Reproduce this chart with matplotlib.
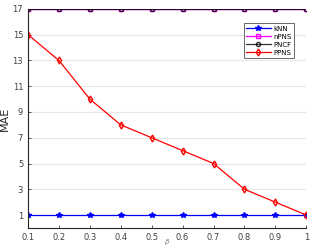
import matplotlib
matplotlib.use('Agg')
import matplotlib.pyplot as plt

# Data
x_vals = [0.1, 0.2, 0.3, 0.4, 0.5, 0.6, 0.7, 0.8, 0.9, 1.0]
knn = [1, 1, 1, 1, 1, 1, 1, 1, 1, 1]
npns = [17, 17, 17, 17, 17, 17, 17, 17, 17, 17]
pncf = [17, 17, 17, 17, 17, 17, 17, 17, 17, 17]
ppns = [15, 13, 10, 8, 7, 6, 5, 3, 2, 1]
y_ticks = [1, 3, 5, 7, 9, 11, 13, 15, 17]
x_ticks = [0.1, 0.2, 0.3, 0.4, 0.5, 0.6, 0.7, 0.8, 0.9, 1.0]
x_tick_labels = ['0.1', '0.2', '0.3', '0.4', '0.5', '0.6', '0.7', '0.8', '0.9', '1']

fig = plt.figure(figsize=(3.13, 2.48), dpi=100)
ax = fig.add_axes([0.0895, 0.081, 0.889, 0.883])

ax.plot(x_vals, knn, color='#0000ff', marker='*', markersize=4, linewidth=0.9, label='kNN')
ax.plot(x_vals, npns, color='#ff00ff', marker='s', markersize=3, markerfacecolor='none',
        linewidth=0.9, label='nPNS')
ax.plot(x_vals, pncf, color='#000000', marker='o', markersize=3, markerfacecolor='none',
        linewidth=0.9, label='PNCF', alpha=0.8)
ax.plot(x_vals, ppns, color='#ff0000', marker='d', markersize=3.5, markerfacecolor='none',
        linewidth=0.9, label='PPNS')

ax.set_xlim(0.1, 1.0)
ax.set_ylim(0, 17)
ax.set_xticks(x_ticks)
ax.set_xticklabels(x_tick_labels)
ax.set_yticks(y_ticks)
ax.tick_params(axis='both', direction='in', labelsize=6, colors='#404040', length=2.5, width=0.6)
ax.yaxis.grid(True, color='#e6e6e6', linewidth=0.8)
ax.set_axisbelow(True)
ax.spines['top'].set_visible(False)
ax.spines['right'].set_visible(False)
ax.spines['left'].set_linewidth(0.8)
ax.spines['bottom'].set_linewidth(0.8)
ax.spines['left'].set_color('#262626')
ax.spines['bottom'].set_color('#262626')

ax.set_ylabel('MAE', fontsize=8, color='#262626', labelpad=2)
xl = ax.set_xlabel(r'$\beta$', fontsize=5, color='#808080')
xl.set_verticalalignment('center')
ax.xaxis.set_label_coords(0.5, -0.064)

leg = ax.legend(loc='upper right', bbox_to_anchor=(0.955, 0.935), fontsize=5, frameon=True,
                fancybox=False, edgecolor='#262626', handlelength=3.6, handletextpad=0.3,
                borderpad=0.35, labelspacing=0.3, borderaxespad=0)
leg.get_frame().set_linewidth(0.6)

fig.savefig('out.png', dpi=100)
